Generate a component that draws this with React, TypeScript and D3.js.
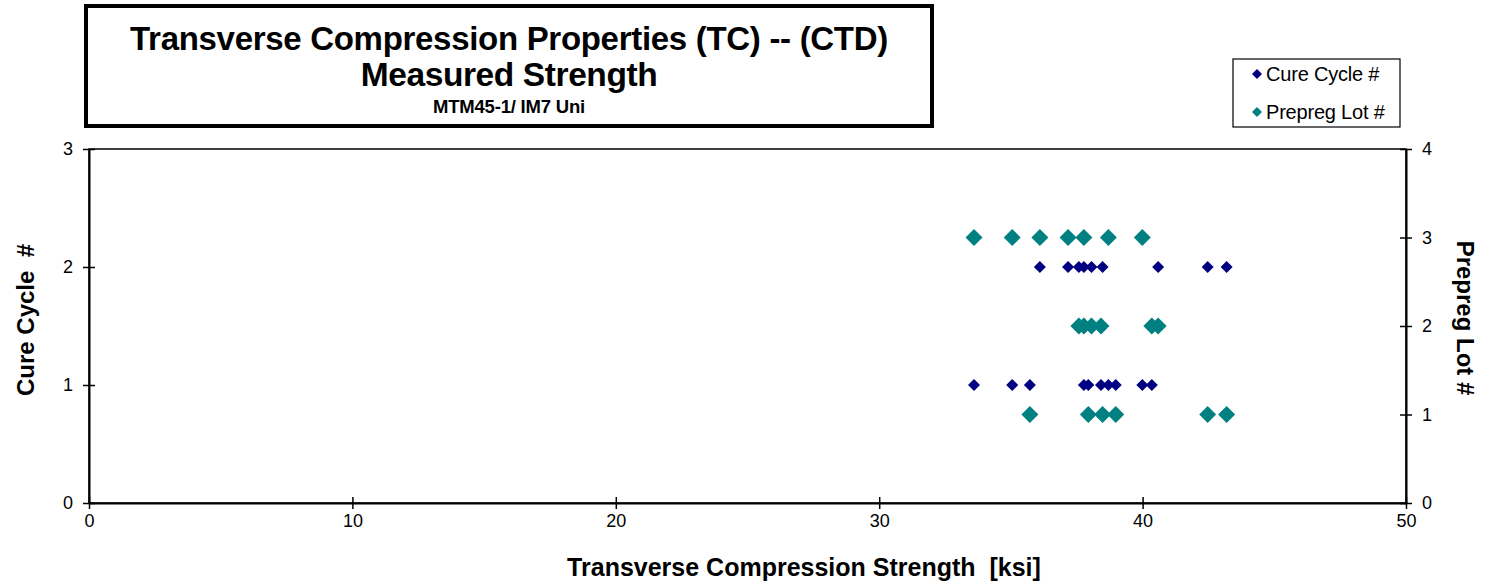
import { useEffect, useRef } from "react";
import { select, scaleLinear, axisBottom, axisLeft, axisRight, symbol, symbolSquare, format } from "d3";

const W = 1486;
const H = 583;

const titleLines = [
  "Transverse Compression Properties (TC) -- (CTD)",
  "Measured Strength",
  "MTM45-1/ IM7 Uni",
];

const cureCycle1 = [33.6, 35.05, 35.72, 37.77, 37.94, 38.42, 38.7, 38.98, 39.99, 40.35];
const cureCycle2 = [36.1, 37.17, 37.58, 37.77, 38.06, 38.48, 40.59, 42.47, 43.19];
const lot1 = [35.72, 37.94, 38.48, 38.98, 42.47, 43.19];
const lot2 = [37.58, 37.77, 38.06, 38.42, 40.35, 40.59];
const lot3 = [33.6, 35.05, 36.1, 37.17, 37.77, 38.7, 39.99];

const xTicks = [0, 10, 20, 30, 40, 50];
const leftTicks = [0, 1, 2, 3];
const rightTicks = [0, 1, 2, 3, 4];

const NAVY = "#000080";
const TEAL = "#008080";

export default function App() {
  const svgRef = useRef<SVGSVGElement | null>(null);

  useEffect(() => {
    if (!svgRef.current) return;
    const svg = select(svgRef.current);
    svg.selectAll("*").remove();

    const left = 89, right = 1406, top = 149, bottom = 503;
    const x = scaleLinear().domain([0, 50]).range([left, right]);
    const yL = scaleLinear().domain([0, 3]).range([bottom, top]);
    const yR = scaleLinear().domain([0, 4]).range([bottom, top]);

    const font = "Arial, 'Liberation Sans', sans-serif";

    // title box
    svg.append("rect")
      .attr("x", 86).attr("y", 6).attr("width", 846).attr("height", 120)
      .attr("fill", "#fff").attr("stroke", "#000").attr("stroke-width", 4);
    const titleSizes = [33, 33.5, 18.5];
    const titleSpacing = [-0.3, -0.4, -0.2];
    const titleY = [50, 86, 113];
    titleLines.forEach((t, i) => {
      svg.append("text")
        .attr("x", 509).attr("y", titleY[i])
        .attr("text-anchor", "middle")
        .attr("font-family", font)
        .attr("font-weight", "bold")
        .attr("font-size", titleSizes[i])
        .attr("letter-spacing", titleSpacing[i])
        .text(t);
    });

    // plot frame
    svg.append("rect")
      .attr("x", left).attr("y", top).attr("width", right - left).attr("height", bottom - top)
      .attr("fill", "none").attr("stroke", "#000").attr("stroke-width", 1.5);

    const styleAxis = (g: any) => {
      g.select(".domain").attr("stroke", "#000").attr("stroke-width", 2);
      g.selectAll(".tick line").attr("stroke", "#000").attr("stroke-width", 1.5);
      g.selectAll(".tick text").attr("font-family", font).attr("font-size", 18).attr("fill", "#000");
    };
    const intFmt = format("d");

    const gx = svg.append("g").attr("transform", `translate(0,${bottom})`)
      .call(axisBottom(x).tickValues(xTicks).tickFormat(intFmt).tickSize(6).tickSizeOuter(0).tickPadding(5));
    styleAxis(gx);
    gx.selectAll(".tick line").attr("y1", -6);

    const gl = svg.append("g").attr("transform", `translate(${left},0)`)
      .call(axisLeft(yL).tickValues(leftTicks).tickFormat(intFmt).tickSize(6).tickSizeOuter(0).tickPadding(10));
    styleAxis(gl);
    gl.selectAll(".tick line").attr("x1", 6);

    const gr = svg.append("g").attr("transform", `translate(${right},0)`)
      .call(axisRight(yR).tickValues(rightTicks).tickFormat(intFmt).tickSize(6).tickSizeOuter(0).tickPadding(10));
    styleAxis(gr);
    gr.selectAll(".tick line").attr("x1", -6);

    // markers (squares turned 45 degrees)
    const small = symbol().type(symbolSquare).size(72)();
    const big = symbol().type(symbolSquare).size(144)();
    const drawSet = (vals: number[], yv: number, yScale: any, path: string | null, color: string) => {
      svg.append("g").selectAll("path").data(vals).enter().append("path")
        .attr("d", path)
        .attr("transform", (d) => `translate(${x(d)},${yScale(yv)}) rotate(45)`)
        .attr("fill", color);
    };
    drawSet(lot1, 1, yR, big, TEAL);
    drawSet(lot2, 2, yR, big, TEAL);
    drawSet(lot3, 3, yR, big, TEAL);
    drawSet(cureCycle1, 1, yL, small, NAVY);
    drawSet(cureCycle2, 2, yL, small, NAVY);

    // legend
    svg.append("rect")
      .attr("x", 1233).attr("y", 59).attr("width", 167).attr("height", 68)
      .attr("fill", "#fff").attr("stroke", "#000").attr("stroke-width", 1.2);
    const legend = [
      { label: "Cure Cycle #", color: NAVY, y: 74 },
      { label: "Prepreg Lot #", color: TEAL, y: 112 },
    ];
    legend.forEach((l) => {
      svg.append("path")
        .attr("d", symbol().type(symbolSquare).size(50)())
        .attr("transform", `translate(1257,${l.y}) rotate(45)`)
        .attr("fill", l.color);
      svg.append("text")
        .attr("x", 1266).attr("y", l.y + 7)
        .attr("font-family", font).attr("font-size", 20)
        .attr("letter-spacing", -0.2)
        .text(l.label);
    });

    // axis titles
    svg.append("text")
      .attr("transform", `translate(34,320) rotate(-90)`)
      .attr("text-anchor", "middle")
      .attr("font-family", font).attr("font-weight", "bold").attr("font-size", 24)
      .attr("xml:space", "preserve")
      .text("Cure Cycle  #");
    svg.append("text")
      .attr("transform", `translate(1457,318) rotate(90)`)
      .attr("text-anchor", "middle")
      .attr("font-family", font).attr("font-weight", "bold").attr("font-size", 24)
      .text("Prepreg Lot #");
    svg.append("text")
      .attr("x", 804).attr("y", 576)
      .attr("text-anchor", "middle")
      .attr("font-family", font).attr("font-weight", "bold").attr("font-size", 25)
      .attr("xml:space", "preserve")
      .text("Transverse Compression Strength  [ksi]");
  }, []);

  return (
    <svg
      ref={svgRef}
      width={W}
      height={H}
      style={{ position: "absolute", left: 0, top: 0, background: "#fff" }}
    />
  );
}
